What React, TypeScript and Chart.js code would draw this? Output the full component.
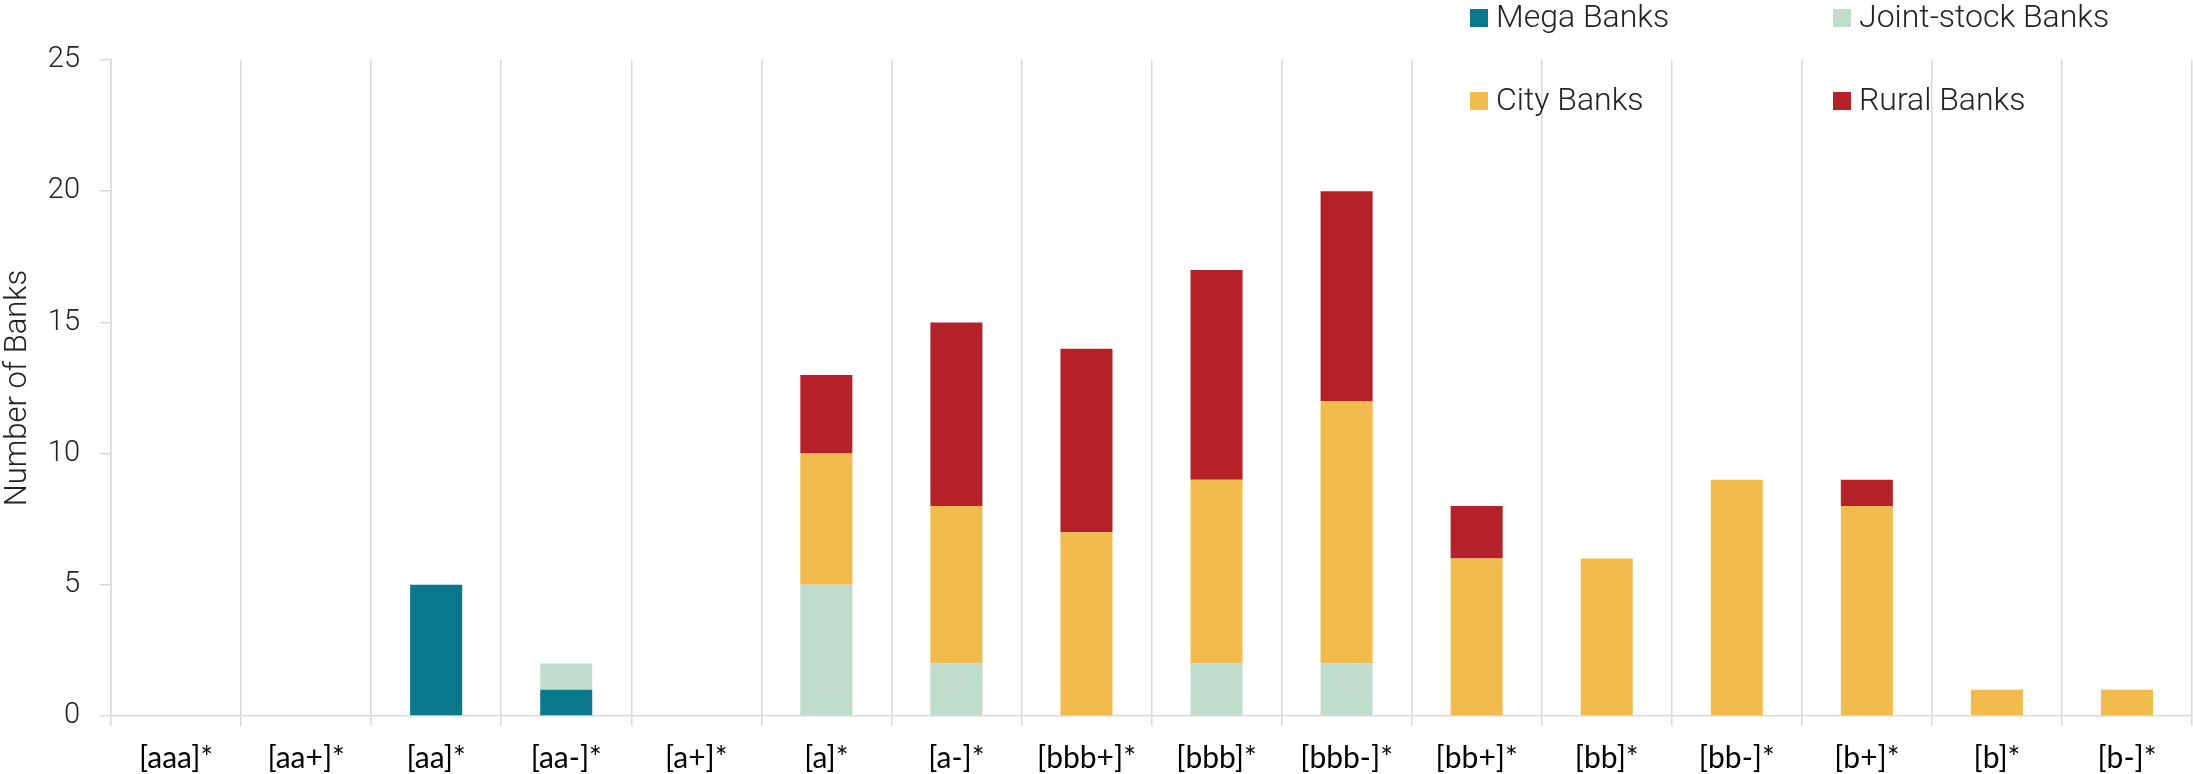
import React, { useEffect, useRef } from "react";
import { Chart, registerables } from "chart.js";

Chart.register(...registerables);

const ratingBuckets = [
  "[aaa]*", "[aa+]*", "[aa]*", "[aa-]*", "[a+]*", "[a]*", "[a-]*", "[bbb+]*",
  "[bbb]*", "[bbb-]*", "[bb+]*", "[bb]*", "[bb-]*", "[b+]*", "[b]*", "[b-]*",
];

const megaBanks = [0, 0, 5, 1, 0, 0, 0, 0, 0, 0, 0, 0, 0, 0, 0, 0];
const jointStockBanks = [0, 0, 0, 1, 0, 5, 2, 0, 2, 2, 0, 0, 0, 0, 0, 0];
const cityBanks = [0, 0, 0, 0, 0, 5, 6, 7, 7, 10, 6, 6, 9, 8, 1, 1];
const ruralBanks = [0, 0, 0, 0, 0, 3, 7, 7, 8, 8, 2, 0, 0, 1, 0, 0];

const yTicks = [0, 5, 10, 15, 20, 25];

const GRID = "#d9d9d9";
const LIGHT_FONT = "Roboto, 'Open Sans', sans-serif";

// Two-column legend drawn in the top-right corner of the canvas
const gridLegend = {
  id: "gridLegend",
  afterDraw(chart: Chart) {
    const ctx = chart.ctx;
    const cols = [1470, 1833];
    const rows = [18, 101];
    const box = 18;
    ctx.save();
    ctx.font = `300 32px ${LIGHT_FONT}`;
    ctx.textBaseline = "middle";
    ctx.textAlign = "left";
    chart.data.datasets.forEach((ds, i) => {
      const x = cols[i % 2];
      const y = rows[Math.floor(i / 2)];
      ctx.fillStyle = ds.backgroundColor as string;
      ctx.fillRect(x, y - box / 2, box, box);
      ctx.fillStyle = "#222222";
      ctx.fillText(ds.label as string, x + 26, y + 1);
    });
    ctx.restore();
  },
};

export default function App() {
  const canvasRef = useRef<HTMLCanvasElement | null>(null);

  useEffect(() => {
    document.body.style.margin = "0";
    const canvas = canvasRef.current;
    if (!canvas) return;

    const chart = new Chart(canvas, {
      type: "bar",
      data: {
        labels: ratingBuckets,
        datasets: [
          { label: "Mega Banks", data: megaBanks, backgroundColor: "#0b778b" },
          { label: "Joint-stock Banks", data: jointStockBanks, backgroundColor: "#bfdccd" },
          { label: "City Banks", data: cityBanks, backgroundColor: "#f2bb4e" },
          { label: "Rural Banks", data: ruralBanks, backgroundColor: "#b52129" },
        ],
      },
      options: {
        responsive: false,
        animation: false,
        devicePixelRatio: 1,
        layout: { padding: { top: 60, right: 1, bottom: 0, left: 0 } },
        datasets: {
          bar: { barPercentage: 0.4, categoryPercentage: 1, borderWidth: 0 },
        },
        plugins: {
          legend: { display: false },
          tooltip: { enabled: false },
        },
        scales: {
          x: {
            stacked: true,
            afterFit(scale: any) {
              scale.height = 58;
            },
            grid: {
              offset: true,
              color: GRID,
              lineWidth: 1.5,
              tickLength: 10,
              drawOnChartArea: true,
            },
            border: { display: true, color: GRID, width: 1.5 },
            ticks: {
              color: "#000000",
              padding: 14,
              font: { family: "Lato, 'Open Sans', sans-serif", size: 30 },
              maxRotation: 0,
              autoSkip: false,
            },
          },
          y: {
            stacked: true,
            min: 0,
            max: 25,
            afterBuildTicks(scale: any) {
              scale.ticks = yTicks.map((v) => ({ value: v }));
            },
            afterFit(scale: any) {
              scale.width = 111;
            },
            grid: {
              drawOnChartArea: false,
              drawTicks: true,
              tickLength: 11,
              tickColor: GRID,
              lineWidth: 1.5,
            },
            border: { display: true, color: GRID, width: 1.5 },
            ticks: {
              color: "#222222",
              padding: 20,
              font: { family: LIGHT_FONT, size: 29, weight: 300 },
            },
            title: {
              display: true,
              text: "Number of Banks",
              color: "#222222",
              padding: 0,
              font: { family: LIGHT_FONT, size: 31, weight: 300 },
            },
          },
        },
      },
      plugins: [gridLegend],
    });

    return () => chart.destroy();
  }, []);

  return <canvas ref={canvasRef} width={2193} height={774} />;
}
